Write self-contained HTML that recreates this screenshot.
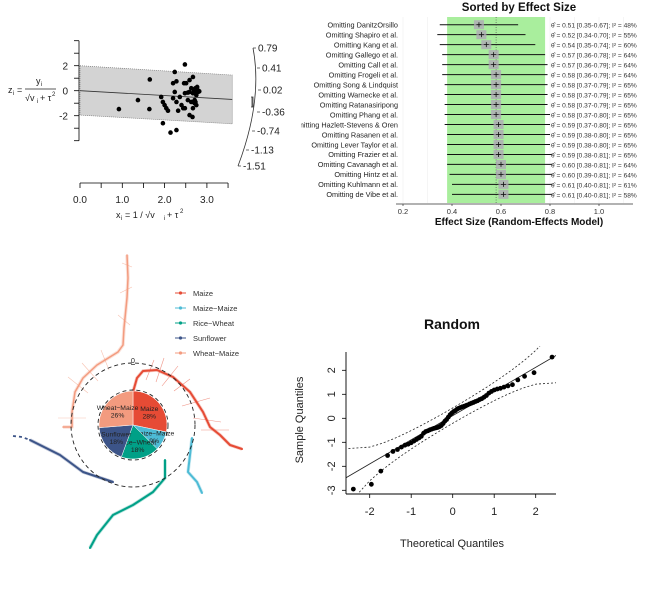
<!DOCTYPE html>
<html><head><meta charset="utf-8"><style>
html,body{margin:0;padding:0;background:#fff;}
svg{display:block;font-family:"Liberation Sans",sans-serif;}
</style></head><body>
<svg id="fig" width="653" height="593" viewBox="0 0 653 593">
<rect x="0" y="0" width="653" height="593" fill="#fff"/>
<g id="radial"></g>
<g id="forest"></g>
<g id="circ"></g>
<g id="qq"></g>
</svg>
<script>
// ---------- Radial plot data ----------
const radialX = [0.92,1.37,1.65,1.64,1.96,1.92,1.96,2.0,2.04,2.08,2.14,2.2,2.24,2.24,2.2,2.28,2.28,2.32,2.28,2.36,2.4,2.44,2.48,2.46,2.48,2.48,2.51,2.55,2.55,2.59,2.59,2.59,2.63,2.63,2.66,2.67,2.67,2.67,2.71,2.71,2.73,2.75,2.75,2.77,2.77,2.79,2.73,2.75,2.71,2.8,2.82,2.69];
const radialZ = [-1.47,-0.75,0.9,-1.47,-2.6,-0.5,-0.9,-1.15,-1.4,-1.6,-3.35,0.6,1.5,-0.1,-0.6,-3.15,-0.9,-1.6,0.75,-0.5,-1.15,-1.4,2.1,0.6,-0.2,-1.4,0.6,-0.15,-0.75,0.85,-0.1,-1.95,0.2,-0.9,-2.1,1.1,-0.2,-1.4,0.05,-1.0,0.2,-0.1,-0.35,0.3,0.05,-0.1,-0.9,-1.15,-0.75,0.0,-0.05,0.1];
const radialYTicks = [-2,0,2];
const radialXTicks = ["0.0","1.0","2.0","3.0"];
const arcLabels = ["0.79","0.41","0.02","-0.36","-0.74","-1.13","-1.51"];

// ---------- Forest plot data ----------
const forestLabels = ["Omitting DanitzOrsillo","Omitting Shapiro et al.","Omitting Kang et al.","Omitting Gallego et al.","Omitting Call et al.","Omitting Frogeli et al.","Omitting Song & Lindquist","Omitting Warnecke et al.","Omitting Ratanasiripong","Omitting Phang et al.","Omitting Hazlett-Stevens & Oren","Omitting Rasanen et al.","Omitting Lever Taylor et al.","Omitting Frazier et al.","Omitting Cavanagh et al.","Omitting Hintz et al.","Omitting Kuhlmann et al.","Omitting de Vibe et al."];
const forestEst = [0.51,0.52,0.54,0.57,0.57,0.58,0.58,0.58,0.58,0.58,0.59,0.59,0.59,0.59,0.60,0.60,0.61,0.61];
const forestLo = [0.35,0.34,0.35,0.36,0.36,0.36,0.37,0.37,0.37,0.37,0.37,0.38,0.38,0.38,0.38,0.39,0.40,0.40];
const forestHi = [0.67,0.70,0.74,0.78,0.79,0.79,0.79,0.79,0.79,0.80,0.80,0.80,0.80,0.81,0.81,0.81,0.81,0.81];
const forestI2 = [48,55,60,64,64,64,65,65,65,65,65,65,65,65,64,64,61,58];
const forestTicks = ["0.2","0.4","0.6","0.8","1.0"];

// ---------- Circular plot data ----------
const pieCats = ["Maize","Maize\u2212Maize","Rice\u2212Wheat","Sunflower","Wheat\u2212Maize"];
const piePct = [28,9,18,18,26];
const pieColors = ["#E64B35","#4DBBD5","#00A087","#3C5488","#F39B7F"];

// ---------- QQ plot data ----------
const qqSample = [-2.95,-2.75,-2.2,-1.55,-1.38,-1.3,-1.2,-1.12,-1.08,-1.02,-0.95,-0.88,-0.82,-0.75,-0.62,-0.55,-0.52,-0.48,-0.45,-0.42,-0.4,-0.38,-0.35,-0.3,-0.22,-0.12,-0.05,0.05,0.15,0.22,0.28,0.32,0.38,0.42,0.45,0.48,0.5,0.53,0.56,0.6,0.63,0.66,0.7,0.73,0.78,0.82,0.88,0.95,1.05,1.12,1.18,1.22,1.25,1.3,1.35,1.4,1.6,1.75,1.9,2.55];
const qqXTicks = [-2,-1,0,1,2];
const qqYTicks = [-3,-2,-1,0,1,2];

const NS="http://www.w3.org/2000/svg";
function mk(parent,tag,attrs,text){const e=document.createElementNS(NS,tag);for(const k in attrs)e.setAttribute(k,attrs[k]);if(text!==undefined)e.textContent=text;parent.appendChild(e);return e;}

// ===== Radial =====
(function(){
const g=document.getElementById('radial');
const X=x=>80+42.3*x, Y=z=>90.7-12.5*z;
let band=mk(g,'polygon',{points:`${X(0)},${Y(2)} ${X(3.6)},${Y(1.25)} ${X(3.6)},${Y(-2.65)} ${X(0)},${Y(-1.95)}`,fill:'#d3d3d3',stroke:'#777','stroke-dasharray':'1,1','stroke-width':0.7});

let rl=mk(g,'line',{x1:X(0),y1:Y(0),x2:X(3.6),y2:Y(-0.7),stroke:'#333','stroke-width':0.8});

let ya=mk(g,'line',{x1:79,y1:Y(4),x2:79,y2:Y(-4),stroke:'#000','stroke-width':0.8});

for(let v=-4;v<=4;v++){mk(g,'line',{x1:74,y1:Y(v),x2:79,y2:Y(v),stroke:'#000','stroke-width':0.8});}
radialYTicks.forEach(v=>{let t=mk(g,'text',{x:68,y:Y(v)+4,'font-size':10,'text-anchor':'end',fill:'#222'},String(v));});
let xa=mk(g,'line',{x1:X(0),y1:183,x2:X(3.5),y2:183,stroke:'#000','stroke-width':0.8});

for(let v=0;v<=3.5;v+=0.5){mk(g,'line',{x1:X(v),y1:183,x2:X(v),y2:188,stroke:'#000','stroke-width':0.8});}
radialXTicks.forEach(s=>{let t=mk(g,'text',{x:X(parseFloat(s)),y:203,'font-size':10,'text-anchor':'middle',fill:'#222'},s);});
radialX.forEach((x,i)=>{let c=mk(g,'circle',{cx:X(x),cy:Y(radialZ[i]),r:2.3,fill:'#000'});});
let arc=mk(g,'path',{d:'M253,48 Q263,100 238,166',fill:'none',stroke:'#333','stroke-width':0.8});

const ay=[48,68,90,112,131,150,166], ax=[253,257,258,257,252,246,238];
arcLabels.forEach((s,i)=>{mk(g,'line',{x1:ax[i],y1:ay[i],x2:ax[i]+3,y2:ay[i],stroke:'#333','stroke-width':0.7});
let t=mk(g,'text',{x:ax[i]+5,y:ay[i]+3.5,'font-size':10,fill:'#222'},s);});
mk(g,'path',{d:'M251,97 L253,97 L253,107 L251,107 M252,97 L252,107',fill:'none',stroke:'#333','stroke-width':0.8});
let yl=mk(g,'g',{});
mk(yl,'text',{x:8,y:93,'font-size':9,fill:'#222'},'z');mk(yl,'text',{x:13,y:95,'font-size':6,fill:'#222'},'i');
mk(yl,'text',{x:17,y:93,'font-size':9,fill:'#222'},'=');
mk(yl,'text',{x:36,y:84,'font-size':9,fill:'#222'},'y');mk(yl,'text',{x:41,y:86,'font-size':6,fill:'#222'},'i');
mk(yl,'line',{x1:25,y1:89,x2:56,y2:89,stroke:'#222','stroke-width':0.7});
mk(yl,'text',{x:25,y:101,'font-size':9,fill:'#222'},'\u221Av');mk(yl,'text',{x:37,y:103,'font-size':6,fill:'#222'},'i');
mk(yl,'text',{x:40,y:101,'font-size':9,fill:'#222'},'+ \u03C4');mk(yl,'text',{x:52,y:96,'font-size':6,fill:'#222'},'2');
let xl=mk(g,'g',{});
mk(xl,'text',{x:116,y:218,'font-size':9,fill:'#222'},'x');mk(xl,'text',{x:121,y:220,'font-size':6,fill:'#222'},'i');
mk(xl,'text',{x:125,y:218,'font-size':9,fill:'#222'},'= 1 / \u221Av');mk(xl,'text',{x:164,y:220,'font-size':6,fill:'#222'},'i');
mk(xl,'text',{x:167,y:218,'font-size':9,fill:'#222'},'+ \u03C4');mk(xl,'text',{x:180,y:213,'font-size':6,fill:'#222'},'2');
})();

// ===== Forest =====
(function(){
const g=document.getElementById('forest');
const X=v=>403+245*(v-0.2);
const rowY=i=>24.7+i*9.98;
const defs=mk(g,'defs',{});const cp=mk(defs,'clipPath',{id:'fclip'});mk(cp,'rect',{x:301,y:0,width:352,height:240});
const fg=mk(g,'g',{'clip-path':'url(#fclip)'});
for(let v=0.2;v<=1.11;v+=0.1){mk(g,'line',{x1:X(v),y1:17,x2:X(v),y2:203,stroke:'#eee','stroke-width':0.6});}
let gb=mk(g,'rect',{x:X(0.38),y:17,width:X(0.78)-X(0.38),height:186,fill:'#a9ee9d'});

let dl=mk(g,'line',{x1:X(0.58),y1:17,x2:X(0.58),y2:203,stroke:'#555','stroke-dasharray':'1,1.5','stroke-width':0.7});

let tt=mk(g,'text',{x:519,y:11,'font-size':11.5,'font-weight':'bold','text-anchor':'middle',fill:'#111'},'Sorted by Effect Size');

forestLabels.forEach((lab,i)=>{const y=rowY(i);
let t=mk(fg,'text',{x:398,y:y+2.8,'font-size':7.3,'text-anchor':'end',fill:'#222'},lab);
let l=mk(g,'line',{x1:X(forestLo[i]),y1:y,x2:X(forestHi[i]),y2:y,stroke:'#111','stroke-width':1});
let b=mk(g,'rect',{x:X(forestEst[i])-5,y:y-4.5,width:10,height:9,fill:'#b0a4b8',opacity:0.75});
mk(g,'path',{d:`M${X(forestEst[i])-2.5},${y} h5 M${X(forestEst[i])},${y-2.5} v5`,stroke:'#111','stroke-width':0.8});
let a=mk(g,'text',{x:551,y:y+3,'font-size':6.6,fill:'#333'},`\u03B8\u0302 = ${forestEst[i].toFixed(2)} [${forestLo[i].toFixed(2)}-${forestHi[i].toFixed(2)}]; I\u00B2 = ${forestI2[i]}%`);
});
let ax=mk(g,'line',{x1:396,y1:204,x2:633,y2:204,stroke:'#333','stroke-width':0.8});
forestTicks.forEach(s=>{const x=X(parseFloat(s));mk(g,'line',{x1:x,y1:204,x2:x,y2:206,stroke:'#333','stroke-width':0.7});
let t=mk(g,'text',{x:x,y:214,'font-size':7.5,'text-anchor':'middle',fill:'#333'},s);});
let xt=mk(g,'text',{x:519,y:225,'font-size':10,'font-weight':'bold','text-anchor':'middle',fill:'#111'},'Effect Size (Random-Effects Model)');

})();

// ===== Circular =====
(function(){
const g=document.getElementById('circ');
const cx=133,cy=425,r=34;
const curves=[
 {c:"#F39B7F",p:[[63,427],[72,427],[72,412],[75,392],[83,378],[97,365],[118,352],[123,345],[124,328],[127,298],[128,278],[127,255]]},
 {c:"#E64B35",p:[[133,392],[137,378],[143,371],[157,370],[173,377],[190,392],[203,412],[210,427],[220,435],[230,445],[242,449]]},
 {c:"#4DBBD5",p:[[192,438],[190,455],[188,472],[197,482],[202,493]]},
 {c:"#00A087",p:[[165,460],[165,478],[153,492],[133,505],[113,515],[97,535],[90,548]]},
 {c:"#3C5488",p:[[30,440],[40,445],[60,455],[83,472],[113,482]]}];
const wh=[[72,418,-14,0],[78,385,-10,-8],[90,372,-8,-9],[105,360,-4,-10],[124,320,-6,-5],[126,290,6,-3],[127,265,-5,-2],[150,370,4,-10],[160,370,4,-12],[170,376,8,-10],[182,385,8,-6],[196,402,14,-4],[207,420,14,2],[215,430,14,0]];
wh.forEach(w=>{let l=mk(g,'line',{x1:w[0]-w[2],y1:w[1]-w[3],x2:w[0]+w[2],y2:w[1]+w[3],stroke:w[0]<130&&w[1]<420||w[0]<80?'#F39B7F':'#E64B35','stroke-width':0.6,opacity:0.6});});
curves.forEach((cv,i)=>{const pts=cv.p.map(q=>q.join(',')).join(' ');
mk(g,'polyline',{points:pts,fill:'none',stroke:cv.c,'stroke-width':3.5,opacity:0.3,'stroke-linejoin':'round'});
let pl=mk(g,'polyline',{points:pts,fill:'none',stroke:cv.c,'stroke-width':i==0?1.5:2,'stroke-linejoin':'round','stroke-linecap':'round'});
});
let sd=mk(g,'polyline',{points:'13,436 22,437 30,440',fill:'none',stroke:'#3C5488','stroke-width':1.8,'stroke-dasharray':'3,3'});

let oc=mk(g,'circle',{cx:cx,cy:cy,r:62,fill:'none',stroke:'#222','stroke-width':0.9,'stroke-dasharray':'4,3'});

let zl=mk(g,'text',{x:133,y:363,'font-size':7,'text-anchor':'middle',fill:'#222','text-decoration':'underline'},'0');
const tot=piePct.reduce((a,b)=>a+b,0);let a0=-Math.PI/2;
const pieText=[["Maize","28%"],["Maize\u2212Maize","9%"],["Rice\u2212Wheat","18%"],["Sunflower","18%"],["Wheat\u2212Maize","26%"]];
piePct.forEach((v,i)=>{const a1=a0+2*Math.PI*v/tot;const large=(a1-a0)>Math.PI?1:0;
let s=mk(g,'path',{d:`M${cx},${cy} L${cx+r*Math.cos(a0)},${cy+r*Math.sin(a0)} A${r},${r} 0 ${large} 1 ${cx+r*Math.cos(a1)},${cy+r*Math.sin(a1)} Z`,fill:pieColors[i],stroke:'#fff','stroke-width':0.5});

const am=(a0+a1)/2,rr=i==1?24:21;const tx=cx+rr*Math.cos(am),ty=cy+rr*Math.sin(am);
let t=mk(g,'text',{x:tx,y:ty-1,'font-size':6.8,'text-anchor':'middle',fill:'#222'},pieText[i][0]);
mk(g,'text',{x:tx,y:ty+6.5,'font-size':6.8,'text-anchor':'middle',fill:'#222'},pieText[i][1]);
a0=a1;});
let ic=mk(g,'circle',{cx:cx,cy:cy,r:35,fill:'none',stroke:'#222','stroke-width':0.9,'stroke-dasharray':'4,3'});

pieCats.forEach((c,i)=>{const y=293+i*15;let lg=mk(g,'g',{});
mk(lg,'line',{x1:175,y1:y,x2:186,y2:y,stroke:pieColors[i],'stroke-width':1});mk(lg,'circle',{cx:180.5,cy:y,r:1.6,fill:pieColors[i]});
mk(lg,'text',{x:193,y:y+3,'font-size':7.5,fill:'#333'},c);});
})();

// ===== QQ =====
(function(){
const g=document.getElementById('qq');
const X=x=>452.7+41.5*x, Y=y=>418.3-24*y;
function qnorm(p){const a=[-39.6968302866538,220.946098424521,-275.928510446969,138.357751867269,-30.6647980661472,2.50662827745924],b=[-54.4760987982241,161.585836858041,-155.698979859887,66.8013118877197,-13.2806815528857],c=[-0.00778489400243029,-0.322396458041136,-2.40075827716184,-2.54973253934373,4.37466414146497,2.93816398269878],d=[0.00778469570904146,0.32246712907004,2.445134137143,3.75440866190742];
if(p<0.02425){const q=Math.sqrt(-2*Math.log(p));return(((((c[0]*q+c[1])*q+c[2])*q+c[3])*q+c[4])*q+c[5])/((((d[0]*q+d[1])*q+d[2])*q+d[3])*q+1);}
if(p>1-0.02425){return -qnorm(1-p);}
const q=p-0.5,r=q*q;return(((((a[0]*r+a[1])*r+a[2])*r+a[3])*r+a[4])*r+a[5])*q/(((((b[0]*r+b[1])*r+b[2])*r+b[3])*r+b[4])*r+1);}
const n=qqSample.length;const s=[...qqSample].sort((a,b)=>a-b);
const th=s.map((_,i)=>qnorm((i+0.5)/n));
let tt=mk(g,'text',{x:452,y:329,'font-size':14,'font-weight':'bold','text-anchor':'middle',fill:'#111'},'Random');

const quant=(arr,p)=>{const h=(arr.length-1)*p,lo=Math.floor(h);return arr[lo]+(h-lo)*(arr[lo+1]-arr[lo]);};
const y1=quant(s,0.25),y2=quant(s,0.75),x1=qnorm(0.25),x2=qnorm(0.75);const slope=(y2-y1)/(x2-x1),icpt=y1-slope*x1;
const xmin=-2.6,xmax=2.4;
const defs=mk(g,'defs',{});const cp=mk(defs,'clipPath',{id:'qqclip'});mk(cp,'rect',{x:346,y:346,width:210,height:148});
const cg=mk(g,'g',{'clip-path':'url(#qqclip)'});
let ql=mk(cg,'line',{x1:X(xmin),y1:Y(icpt+slope*xmin),x2:X(xmax+0.3),y2:Y(icpt+slope*(xmax+0.3)),stroke:'#222','stroke-width':0.8});

let up=[],lo=[];for(let k=0;k<=60;k++){const p=0.006+k*(0.988/60);const z=qnorm(p);const dn=Math.exp(-z*z/2)/Math.sqrt(2*Math.PI);const se=slope*Math.sqrt(p*(1-p)/n)/dn;const fit=icpt+slope*z;up.push(`${X(z)},${Y(fit+1.96*se)}`);lo.push(`${X(z)},${Y(fit-1.96*se)}`);}
let ub=mk(cg,'polyline',{points:up.join(' '),fill:'none',stroke:'#222','stroke-width':0.8,'stroke-dasharray':'2,2'});
let lb=mk(cg,'polyline',{points:lo.join(' '),fill:'none',stroke:'#222','stroke-width':0.8,'stroke-dasharray':'2,2'});
s.forEach((v,i)=>{let c=mk(g,'circle',{cx:X(th[i]),cy:Y(v),r:2.4,fill:'#000'});});
let ya=mk(g,'line',{x1:346,y1:352,x2:346,y2:494,stroke:'#000','stroke-width':0.9});
let xa=mk(g,'line',{x1:346,y1:494,x2:556,y2:494,stroke:'#000','stroke-width':0.9});
qqXTicks.forEach(v=>{mk(g,'line',{x1:X(v),y1:494,x2:X(v),y2:498,stroke:'#000','stroke-width':0.8});
let t=mk(g,'text',{x:X(v),y:515,'font-size':11,'text-anchor':'middle',fill:'#222'},String(v));});
qqYTicks.forEach(v=>{mk(g,'line',{x1:342,y1:Y(v),x2:346,y2:Y(v),stroke:'#000','stroke-width':0.8});
let t=mk(g,'text',{x:335,y:Y(v),'font-size':11,'text-anchor':'middle',fill:'#222',transform:`rotate(-90 335 ${Y(v)})`},String(v));});
let xt=mk(g,'text',{x:452,y:547,'font-size':11,'text-anchor':'middle',fill:'#222'},'Theoretical Quantiles');
let yt=mk(g,'text',{x:303,y:420,'font-size':11,'text-anchor':'middle',fill:'#222',transform:'rotate(-90 303 420)'},'Sample Quantiles');
})();
</script>
</body></html>
